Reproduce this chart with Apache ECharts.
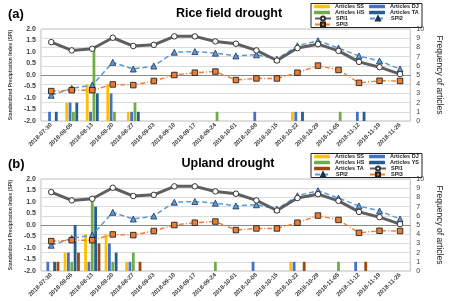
<!DOCTYPE html>
<html>
<head>
<meta charset="utf-8">
<script src="https://cdn.jsdelivr.net/npm/echarts@6/dist/echarts.min.js"></script>
</head>
<body style="margin:0">
<div id="container" style="width:452px;height:301px"></div>
<script type="text/javascript">
    // weekly dates
    var cats = ['2018-07-30', '2018-08-06', '2018-08-13', '2018-08-20', '2018-08-27', '2018-09-03',
        '2018-09-10', '2018-09-17', '2018-09-24', '2018-10-01', '2018-10-08', '2018-10-15',
        '2018-10-22', '2018-10-29', '2018-11-05', '2018-11-12', '2018-11-19', '2018-11-26'];
    var spi1 = [1.43, 1.07, 1.14, 1.62, 1.26, 1.31, 1.68, 1.68, 1.46, 1.36, 1.07, 0.63, 1.17, 1.34, 1.05, 0.57, 0.34, 0.04];
    var spi2 = [-0.88, -0.58, -0.44, 0.55, 0.26, 0.39, 0.99, 1.02, 0.95, 0.83, 0.88, 0.69, 1.27, 1.49, 1.17, 0.83, 0.61, 0.26];
    var spi3 = [-0.70, -0.66, -0.66, -0.41, -0.44, -0.26, 0.00, 0.10, 0.15, -0.22, -0.15, -0.15, 0.10, 0.41, 0.22, -0.34, -0.25, -0.26];
    // (a) rice field articles
    var riceSS = [0, 2, 4, 4, 1, 0, 0, 0, 0, 0, 0, 0, 1, 0, 0, 0, 0, 0];
    var riceDJ = [1, 2, 1, 3, 1, 0, 0, 0, 0, 0, 1, 0, 1, 0, 0, 1, 0, 0];
    var riceHS = [0, 1, 8, 1, 2, 0, 0, 0, 1, 0, 0, 0, 0, 0, 1, 0, 0, 0];
    var riceTA = [1, 2, 3, 0, 1, 0, 0, 0, 0, 0, 0, 0, 1, 0, 0, 1, 0, 0];
    // (b) upland articles
    var upSS = [0, 2, 4, 4, 1, 0, 0, 0, 0, 0, 0, 0, 1, 0, 0, 0, 0, 0];
    var upDJ = [1, 2, 1, 3, 1, 0, 0, 0, 0, 0, 1, 0, 1, 0, 0, 1, 0, 0];
    var upHS = [0, 1, 8, 1, 2, 0, 0, 0, 1, 0, 0, 0, 0, 0, 1, 0, 0, 0];
    var upYS = [1, 5, 7, 2, 0, 0, 0, 0, 0, 0, 0, 0, 0, 0, 0, 0, 0, 0];
    var upTA = [1, 2, 3, 0, 1, 0, 0, 0, 0, 0, 0, 0, 1, 0, 0, 1, 0, 0];
    var spiTicks = [-2, 2, 0.5];
    var freqTicks = [0, 10, 1];

    var FONT = 'Liberation Sans';
    var myChart = echarts.init(document.getElementById('container'));

    function bar(name, data, color, idx) {
        return {
            name: name, type: 'bar', data: data, xAxisIndex: idx, yAxisIndex: idx * 2 + 1,
            barWidth: 2.8, barGap: '20%', itemStyle: {color: color}, z: 1
        };
    }
    function lines(prefix, idx) {
        return [
            {
                name: prefix + 'SPI1', type: 'line', data: spi1, xAxisIndex: idx, yAxisIndex: idx * 2,
                symbol: 'circle', symbolSize: 5.5, z: 5,
                lineStyle: {color: '#5f5f5f', width: 3},
                itemStyle: {color: '#fff', borderColor: '#333', borderWidth: 1}
            },
            {
                name: prefix + 'SPI2', type: 'line', data: spi2, xAxisIndex: idx, yAxisIndex: idx * 2,
                symbol: 'triangle', symbolSize: 6, z: 4,
                lineStyle: {color: '#5b9bd5', width: 1.5, type: [5, 3]},
                itemStyle: {color: '#5b9bd5', borderColor: '#1f2f4f', borderWidth: 0.8}
            },
            {
                name: prefix + 'SPI3', type: 'line', data: spi3, xAxisIndex: idx, yAxisIndex: idx * 2,
                symbol: 'rect', symbolSize: 5.5, z: 4,
                lineStyle: {color: '#ed7d31', width: 1.4, type: [5, 2, 1, 2]},
                itemStyle: {color: '#ed7d31', borderColor: '#222', borderWidth: 0.9}
            }
        ];
    }

    var legText = {fontSize: 5.5, fontWeight: 'bold', fontFamily: FONT, color: '#222', lineHeight: 6, height: 6};
    function leg(left, top, data, h) {
        return {
            left: left, top: top, orient: 'vertical', data: data, itemWidth: 16, itemHeight: h,
            itemGap: 0, padding: 0, textStyle: legText, selectedMode: false,
            formatter: function (n) { return n.replace(/^[ab]:/, ''); }
        };
    }

    var xAxes = [0, 1].map(function (i) {
        return {
            type: 'category', data: cats, gridIndex: i,
            axisTick: {show: false},
            axisLine: {lineStyle: {color: '#8c8c8c'}},
            axisLabel: {rotate: 45, fontSize: 6, fontWeight: 'bold', fontFamily: FONT, color: '#404040', margin: 3, interval: 0}
        };
    });
    var yAxes = [];
    [0, 1].forEach(function (i) {
        yAxes.push({
            type: 'value', gridIndex: i, min: spiTicks[0], max: spiTicks[1], interval: spiTicks[2],
            name: 'Standardized Precipitation Index (SPI)', nameLocation: 'middle', nameGap: 16,
            nameTextStyle: {fontSize: 5, fontWeight: 'bold', fontFamily: FONT, color: '#404040'},
            splitLine: {show: false}, axisLine: {show: false}, axisTick: {show: false},
            axisLabel: {fontSize: 7, fontWeight: 'bold', fontFamily: FONT, color: '#404040', margin: 5,
                formatter: function (v) { return v.toFixed(1); }}
        });
        yAxes.push({
            type: 'value', gridIndex: i, min: freqTicks[0], max: freqTicks[1], interval: freqTicks[2], position: 'right',
            name: 'Frequency of articles', nameLocation: 'middle', nameGap: 14, nameRotate: -90,
            nameTextStyle: {fontSize: 8.5, fontFamily: FONT, color: '#222'},
            splitLine: {lineStyle: {color: '#dcdcdc'}}, axisLine: {show: false}, axisTick: {show: false},
            axisLabel: {fontSize: 7, fontFamily: FONT, color: '#404040', margin: 6}
        });
    });

    var option = {
        animation: false,
        grid: [
            {left: 35, right: 30, top: 29, height: 92, show: true, borderColor: '#bfbfbf', borderWidth: 1},
            {left: 35, right: 30, top: 179, height: 92, show: true, borderColor: '#bfbfbf', borderWidth: 1}
        ],
        xAxis: xAxes,
        yAxis: yAxes,
        legend: [
            leg(314, 3.5, ['a:Articles SS', 'a:Articles HS'], 3.5),
            leg(314, 15.5, ['a:SPI1', 'a:SPI3'], 5),
            leg(369, 3.5, ['a:Articles DJ', 'a:Articles TA'], 3.5),
            leg(369, 15.5, ['a:SPI2'], 5),
            leg(314, 153.5, ['b:Articles SS', 'b:Articles HS', 'b:Articles TA'], 3.5),
            leg(314, 171.5, ['b:SPI2'], 5),
            leg(369, 153.5, ['b:Articles DJ', 'b:Articles YS'], 3.5),
            leg(369, 165.5, ['b:SPI1', 'b:SPI3'], 5)
        ],
        graphic: [
            {type: 'rect', shape: {x: 311, y: 3.5, width: 111, height: 24}, style: {fill: '#fff', stroke: '#222', lineWidth: 1}, z: -1},
            {type: 'rect', shape: {x: 311, y: 153.5, width: 111, height: 24}, style: {fill: '#fff', stroke: '#222', lineWidth: 1}, z: -1},
            {type: 'text', x: 8, y: 14, style: {text: '(a)', font: 'bold 13px ' + FONT, fill: '#000', verticalAlign: 'middle'}},
            {type: 'text', x: 229, y: 14, style: {text: 'Rice field drought', font: 'bold 12.5px ' + FONT, fill: '#000', align: 'center', verticalAlign: 'middle'}},
            {type: 'text', x: 8, y: 164, style: {text: '(b)', font: 'bold 13px ' + FONT, fill: '#000', verticalAlign: 'middle'}},
            {type: 'text', x: 228, y: 164, style: {text: 'Upland drought', font: 'bold 12.5px ' + FONT, fill: '#000', align: 'center', verticalAlign: 'middle'}}
        ],
        series: [
            bar('a:Articles SS', riceSS, '#ffc000', 0),
            bar('a:Articles DJ', riceDJ, '#4472c4', 0),
            bar('a:Articles HS', riceHS, '#70ad47', 0),
            bar('a:Articles TA', riceTA, '#255e91', 0)
        ].concat(lines('a:', 0), [
            bar('b:Articles SS', upSS, '#ffc000', 1),
            bar('b:Articles DJ', upDJ, '#4472c4', 1),
            bar('b:Articles HS', upHS, '#70ad47', 1),
            bar('b:Articles YS', upYS, '#255e91', 1),
            bar('b:Articles TA', upTA, '#9e480e', 1)
        ], lines('b:', 1))
    };
    myChart.setOption(option);
</script>
</body>
</html>
